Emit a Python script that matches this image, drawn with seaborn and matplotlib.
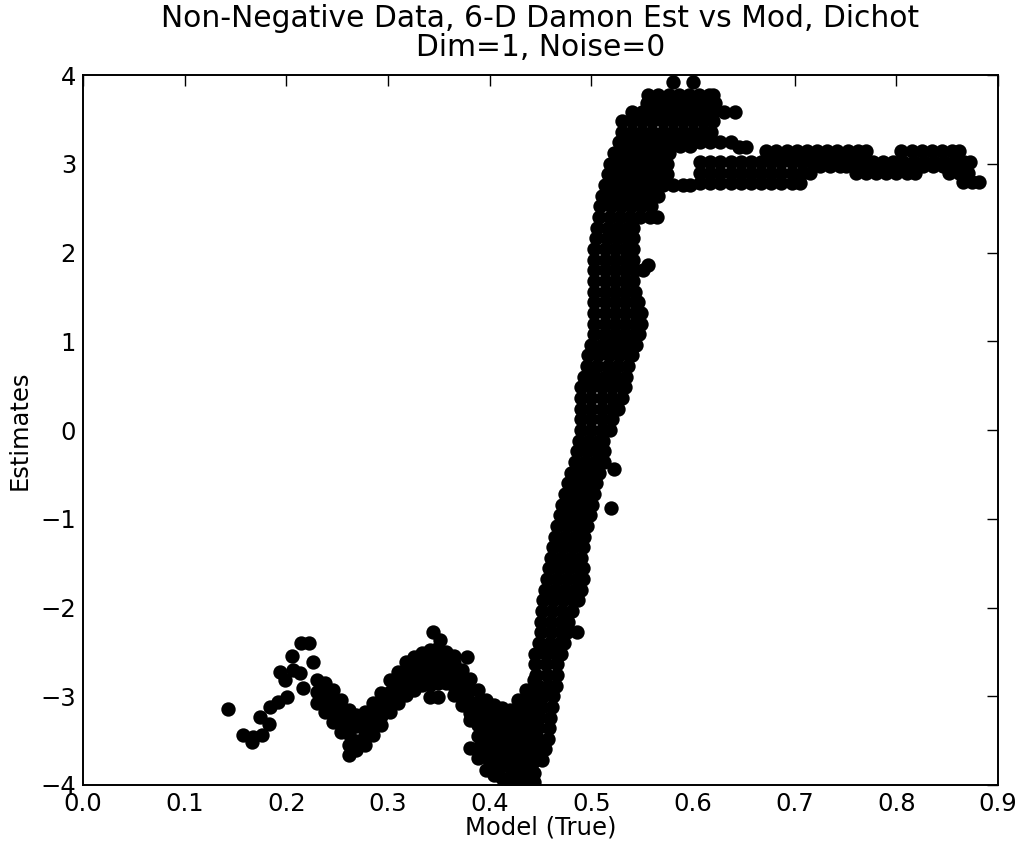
import numpy as np
import pandas as pd
import matplotlib
matplotlib.use("Agg")
import matplotlib.pyplot as plt
import seaborn as sns

# ---------------- data ----------------
# sparse left tail and a few isolated points
tail_x = [0.143, 0.157, 0.167, 0.176, 0.166, 0.174, 0.183, 0.184, 0.192, 0.201,
          0.194, 0.199, 0.207, 0.206, 0.214, 0.222, 0.226, 0.216, 0.213,
          0.344, 0.351, 0.365, 0.378, 0.519, 0.522, 0.556]
tail_y = [-3.14, -3.44, -3.46, -3.44, -3.52, -3.23, -3.31, -3.12, -3.06, -3.01,
          -2.73, -2.82, -2.70, -2.55, -2.40, -2.40, -2.61, -2.91, -2.74,
          -2.28, -2.37, -2.55, -2.56, -0.88, -0.44, 1.86]

# wavy band and dip: columns of points (model value -> estimates)
dip_x = [0.230, 0.238, 0.246, 0.254, 0.262, 0.269, 0.277, 0.285, 0.293, 0.302,
         0.310, 0.318, 0.326, 0.333, 0.341, 0.349, 0.357, 0.365, 0.373, 0.381,
         0.389, 0.396, 0.404, 0.412, 0.420, 0.428, 0.436, 0.444]
dip_y = [
    [-2.82, -2.95, -3.08],
    [-2.85, -2.98, -3.11, -3.18],
    [-2.93, -3.06, -3.19, -3.29],
    [-3.04, -3.17, -3.30, -3.40],
    [-3.16, -3.29, -3.42, -3.55, -3.66],
    [-3.21, -3.34, -3.50, -3.61],
    [-3.18, -3.31, -3.44, -3.55],
    [-3.08, -3.21, -3.34, -3.44],
    [-2.96, -3.09, -3.22, -3.32],
    [-2.82, -2.95, -3.08, -3.18],
    [-2.73, -2.86, -2.99, -3.08],
    [-2.61, -2.74, -2.87, -2.99],
    [-2.56, -2.69, -2.82, -2.93],
    [-2.51, -2.64, -2.77, -2.87],
    [-2.48, -2.61, -2.74, -2.87, -3.01],
    [-2.46, -2.59, -2.72, -2.85, -3.01],
    [-2.50, -2.63, -2.76, -2.85],
    [-2.62, -2.75, -2.88, -2.99],
    [-2.70, -2.83, -2.96, -3.10],
    [-2.80, -2.93, -3.06, -3.19, -3.27, -3.58],
    [-2.93, -3.06, -3.19, -3.32, -3.45, -3.58, -3.70],
    [-3.04, -3.17, -3.30, -3.43, -3.56, -3.69, -3.83],
    [-3.10, -3.23, -3.36, -3.49, -3.62, -3.75, -3.89],
    [-3.13, -3.26, -3.39, -3.52, -3.65, -3.78, -3.92],
    [-3.15, -3.28, -3.41, -3.54, -3.67, -3.80, -3.93, -4.05],
    [-3.04, -3.17, -3.30, -3.43, -3.56, -3.69, -3.82, -3.95],
    [-2.93, -3.06, -3.19, -3.32, -3.45, -3.58, -3.71, -3.84, -3.97],
    [-2.82, -2.95, -3.08, -3.21, -3.34, -3.47, -3.60, -3.73, -3.86, -3.97],
]

# steep rise: rows of points (estimate level -> model values)
rise_levels = [-3.84, -3.72, -3.60, -3.48, -3.36, -3.24, -3.12, -3.00, -2.88,
               -2.76, -2.64, -2.52, -2.40, -2.28, -2.16, -2.04, -1.92, -1.80,
               -1.68, -1.56, -1.44, -1.32, -1.20, -1.08, -0.96, -0.84, -0.72,
               -0.60, -0.48, -0.36, -0.24, -0.12, 0.00, 0.12, 0.24, 0.36, 0.48,
               0.60, 0.72, 0.84, 0.96, 1.08, 1.20, 1.32, 1.44, 1.56, 1.68, 1.80,
               1.92, 2.04, 2.16, 2.28, 2.40, 2.52, 2.64, 2.76]
rise_rows = [
    [0.442],
    [0.443, 0.451],
    [0.446, 0.454],
    [0.448, 0.457],
    [0.448, 0.458],
    [0.449, 0.459],
    [0.451, 0.461],
    [0.452, 0.462],
    [0.448, 0.457, 0.465],
    [0.446, 0.456, 0.466],
    [0.445, 0.455, 0.466],
    [0.445, 0.455, 0.465, 0.470],
    [0.449, 0.459, 0.469, 0.473],
    [0.450, 0.460, 0.470, 0.476, 0.486],
    [0.450, 0.460, 0.470, 0.477],
    [0.451, 0.461, 0.471, 0.481],
    [0.452, 0.462, 0.472, 0.482, 0.487],
    [0.454, 0.464, 0.474, 0.484, 0.490],
    [0.456, 0.466, 0.476, 0.486, 0.492],
    [0.458, 0.468, 0.478, 0.488, 0.492],
    [0.460, 0.470, 0.480, 0.490],
    [0.462, 0.472, 0.482, 0.492],
    [0.464, 0.474, 0.484, 0.493],
    [0.466, 0.476, 0.486, 0.496],
    [0.469, 0.479, 0.489, 0.499],
    [0.471, 0.481, 0.491, 0.501],
    [0.474, 0.484, 0.494, 0.503],
    [0.477, 0.487, 0.497, 0.505],
    [0.480, 0.490, 0.500, 0.508],
    [0.484, 0.494, 0.504, 0.512],
    [0.486, 0.496, 0.506, 0.512],
    [0.488, 0.498, 0.508, 0.511],
    [0.490, 0.500, 0.510, 0.518],
    [0.490, 0.500, 0.510, 0.520],
    [0.490, 0.500, 0.510, 0.520, 0.526],
    [0.490, 0.500, 0.510, 0.520, 0.530],
    [0.490, 0.500, 0.510, 0.520, 0.530, 0.533],
    [0.493, 0.503, 0.513, 0.523, 0.534],
    [0.496, 0.506, 0.516, 0.526, 0.536],
    [0.497, 0.507, 0.517, 0.527, 0.537, 0.540],
    [0.500, 0.510, 0.520, 0.530, 0.540, 0.544],
    [0.503, 0.513, 0.523, 0.533, 0.543, 0.547],
    [0.503, 0.513, 0.523, 0.533, 0.543, 0.549],
    [0.503, 0.513, 0.523, 0.533, 0.543, 0.549],
    [0.503, 0.513, 0.523, 0.533, 0.543, 0.546],
    [0.503, 0.513, 0.523, 0.533, 0.543],
    [0.503, 0.513, 0.523, 0.533, 0.541],
    [0.503, 0.513, 0.523, 0.533, 0.543, 0.551],
    [0.503, 0.513, 0.523, 0.533, 0.541],
    [0.503, 0.513, 0.523, 0.533, 0.541],
    [0.505, 0.515, 0.525, 0.535, 0.541],
    [0.506, 0.516, 0.526, 0.536, 0.541],
    [0.508, 0.518, 0.528, 0.538, 0.548, 0.558, 0.565],
    [0.509, 0.519, 0.529, 0.539, 0.549, 0.559],
    [0.510, 0.520, 0.530, 0.540, 0.550, 0.560, 0.566],
    [0.513, 0.523, 0.533, 0.543, 0.553, 0.563, 0.570, 0.580, 0.590, 0.597],
]

# peak blob (with the small empty notch near 0.58-0.60, 2.8-3.1)
peak_levels = [2.88, 3.00, 3.12, 3.20, 3.24, 3.36, 3.48, 3.58, 3.68, 3.78, 3.92]
peak_rows = [
    [0.516, 0.526, 0.536, 0.546, 0.556, 0.566, 0.574],
    [0.518, 0.528, 0.538, 0.548, 0.558, 0.568, 0.574],
    [0.522, 0.532, 0.542, 0.552, 0.562, 0.572, 0.576],
    [0.587, 0.597],
    [0.527, 0.537, 0.547, 0.557, 0.567, 0.577, 0.587, 0.597, 0.607, 0.617,
     0.627, 0.637],
    [0.530, 0.540, 0.550, 0.560, 0.570, 0.580, 0.590, 0.600, 0.610, 0.618],
    [0.530, 0.540, 0.550, 0.560, 0.570, 0.580, 0.590, 0.600, 0.610, 0.620],
    [0.540, 0.550, 0.560, 0.570, 0.580, 0.590, 0.600, 0.610, 0.620, 0.630, 0.641],
    [0.555, 0.565, 0.575, 0.585, 0.595, 0.605, 0.615, 0.622],
    [0.556, 0.566, 0.576, 0.586, 0.596, 0.606, 0.616, 0.620],
    [0.580, 0.600],
]

# plateau
plateau_levels = [2.78, 2.80, 2.90, 2.97, 3.02, 3.14, 3.19]
plateau_rows = [
    [0.607, 0.617, 0.627, 0.637, 0.647, 0.657, 0.667, 0.677, 0.687, 0.697, 0.705],
    [0.866, 0.874, 0.881],
    [0.607, 0.617, 0.627, 0.637, 0.647, 0.657, 0.667, 0.677, 0.687, 0.697, 0.707,
     0.715, 0.760, 0.770, 0.780, 0.790, 0.800, 0.810, 0.818, 0.852, 0.862, 0.870],
    [0.725, 0.735, 0.745, 0.750, 0.826, 0.836, 0.846],
    [0.607, 0.617, 0.627, 0.637, 0.647, 0.657, 0.667, 0.677, 0.687, 0.697, 0.707,
     0.717, 0.727, 0.737, 0.747, 0.757, 0.767, 0.777, 0.787, 0.797, 0.807, 0.817,
     0.827, 0.837, 0.847, 0.857, 0.867, 0.872],
    [0.672, 0.682, 0.692, 0.702, 0.712, 0.722, 0.732, 0.742, 0.752, 0.762, 0.770,
     0.805, 0.815, 0.825, 0.835, 0.845, 0.855, 0.862],
    [0.645, 0.652],
]

x_ticks = [0.0, 0.1, 0.2, 0.3, 0.4, 0.5, 0.6, 0.7, 0.8, 0.9]
y_ticks = [-4, -3, -2, -1, 0, 1, 2, 3, 4]
title_text = "Non-Negative Data, 6-D Damon Est vs Mod, Dichot\nDim=1, Noise=0"
x_label = "Model (True)"
y_label = "Estimates"

# ---------------- build table ----------------
xs, ys = list(tail_x), list(tail_y)
for xv, col in zip(dip_x, dip_y):
    for yv in col:
        xs.append(xv); ys.append(yv)
for levels, rows in ((rise_levels, rise_rows), (peak_levels, peak_rows),
                     (plateau_levels, plateau_rows)):
    for yv, row in zip(levels, rows):
        for xv in row:
            xs.append(xv); ys.append(yv)
df = pd.DataFrame({"model": xs, "estimate": ys})

# ---------------- plot ----------------
sns.set_style("white")
plt.rcParams["font.family"] = ["DejaVu Sans"]
plt.rcParams["axes.unicode_minus"] = True
plt.rcParams["text.color"] = "black"
plt.rcParams["axes.labelcolor"] = "black"

fig = plt.figure(figsize=(10.16, 8.42), dpi=100)
ax = fig.add_axes([0.0817, 0.0677, 0.9006, 0.8432])

sns.scatterplot(data=df, x="model", y="estimate", ax=ax, color="black",
                edgecolor="black", linewidth=1.4, s=80, legend=False, zorder=3)

ax.set_xlim(0.0, 0.9)
ax.set_ylim(-4, 4)
ax.set_xticks(x_ticks)
ax.set_yticks(y_ticks)
ax.set_xticklabels([f"{t:.1f}" for t in x_ticks])
ax.set_yticklabels([str(t).replace("-", "\u2212") for t in y_ticks])
ax.tick_params(direction="in", length=8, width=1.0, top=True, right=True,
               labelsize=17.5, pad=5, colors="black")
for sp in ax.spines.values():
    sp.set_visible(True)
    sp.set_color("black")
    sp.set_linewidth(1.4)
ax.set_xlabel(x_label, fontsize=17.5, labelpad=0, color="black")
ax.set_ylabel(y_label, fontsize=17.5, labelpad=6, color="black")
ax.set_title(title_text, fontsize=21.4, pad=14, linespacing=1.0, color="black")
ax.grid(False)
ax.set_facecolor("white")
fig.patch.set_facecolor("white")

fig.savefig("out.png", dpi=100, facecolor="white")
